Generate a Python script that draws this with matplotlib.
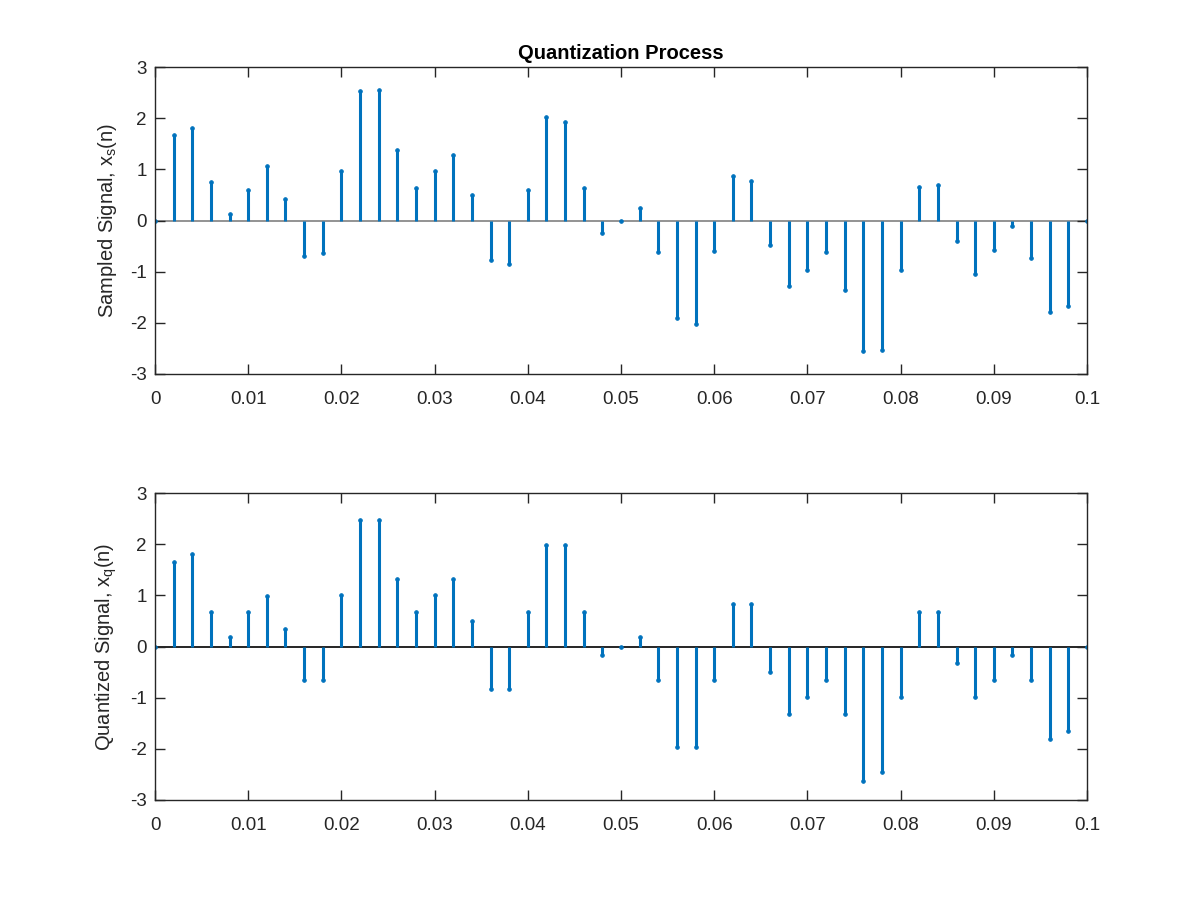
import numpy as np
import matplotlib
matplotlib.use("Agg")
import matplotlib.pyplot as plt

plt.rcParams['font.family'] = ['Liberation Sans', 'DejaVu Sans']
plt.rcParams['axes.unicode_minus'] = False
plt.rcParams['mathtext.fontset'] = 'custom'
plt.rcParams['mathtext.rm'] = 'Liberation Sans'

n_time = [round(0.002 * i, 3) for i in range(51)]

sampled = [0, 1.669, 1.799, 0.747, 0.130, 0.597, 1.058, 0.416, -0.701, -0.636,
           0.968, 2.532, 2.552, 1.383, 0.636, 0.968, 1.279, 0.500, -0.779, -0.857,
           0.597, 2.026, 1.922, 0.636, -0.240, 0.0,
           0.253, -0.617, -1.909, -2.026, -0.597, 0.864, 0.779, -0.487, -1.273,
           -0.961, -0.617, -1.364, -2.545, -2.526, -0.961, 0.649, 0.701, -0.409,
           -1.052, -0.584, -0.117, -0.740, -1.786, -1.669, 0.0]

quantized = [0, 1.648, 1.811, 0.671, 0.176, 0.671, 0.990, 0.339, -0.658, -0.658,
             0.997, 2.463, 2.463, 1.322, 0.671, 0.997, 1.322, 0.508, -0.821, -0.821,
             0.671, 1.974, 1.974, 0.671, -0.163, 0.0,
             0.176, -0.658, -1.967, -1.967, -0.658, 0.827, 0.827, -0.495, -1.316,
             -0.984, -0.658, -1.316, -2.625, -2.456, -0.984, 0.671, 0.671, -0.332,
             -0.984, -0.658, -0.163, -0.658, -1.805, -1.648, 0.0]

xticks = [0, 0.01, 0.02, 0.03, 0.04, 0.05, 0.06, 0.07, 0.08, 0.09, 0.1]
xticklabels = ['0', '0.01', '0.02', '0.03', '0.04', '0.05', '0.06', '0.07', '0.08', '0.09', '0.1']
yticks = [-3, -2, -1, 0, 1, 2, 3]
yticklabels = ['-3', '-2', '-1', '0', '1', '2', '3']

blue = '#0072BD'
axcol = '#262626'

fig = plt.figure(figsize=(12, 9), dpi=100)
ax1 = fig.add_axes([155/1200, 1 - 374/900, (1087-155)/1200, 307/900])
ax2 = fig.add_axes([155/1200, 1 - 800/900, (1087-155)/1200, 307/900])

def draw(ax, y, basecol, ylabel):
    ml, sl, bl = ax.stem(n_time, y, basefmt='-')
    plt.setp(sl, color=blue, linewidth=2.2)
    plt.setp(ml, color=blue, marker='o', markersize=2.5, markeredgewidth=0.8)
    plt.setp(bl, color=basecol, linewidth=1.2, zorder=1)
    bl.set_xdata([0, 0.1])
    ax.set_xlim(0, 0.1)
    ax.set_ylim(-3, 3)
    ax.set_xticks(xticks)
    ax.set_xticklabels(xticklabels)
    ax.set_yticks(yticks)
    ax.set_yticklabels(yticklabels)
    ax.tick_params(direction='in', top=True, right=True, length=7, width=1,
                   colors=axcol, labelsize=13.5)
    ax.tick_params(axis='x', pad=12)
    ax.tick_params(axis='y', pad=6)
    for s in ax.spines.values():
        s.set_color(axcol)
        s.set_linewidth(1)
    ax.set_ylabel(ylabel, fontsize=14.5, color=axcol, labelpad=8)

draw(ax1, sampled, '#808080', r'Sampled Signal, x$_\mathregular{s}$(n)')
draw(ax2, quantized, '#000000', r'Quantized Signal, x$_\mathregular{q}$(n)')
ax1.set_title('Quantization Process', fontsize=14.5, fontweight='bold', pad=6)

fig.savefig('out.png', dpi=100)
